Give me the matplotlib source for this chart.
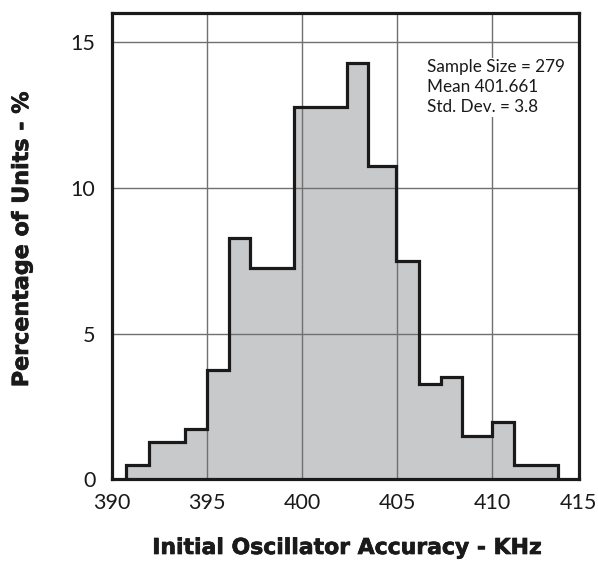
import matplotlib
matplotlib.use('Agg')
import matplotlib.pyplot as plt
import matplotlib.patheffects as pe

# ---- data ----
bin_edges = [390.76, 391.95, 393.84, 395.0, 396.16, 397.28, 399.59, 402.34,
             403.47, 404.97, 406.16, 407.3, 408.44, 409.97, 411.14, 413.47]
percentages = [0.48, 1.27, 1.73, 3.75, 8.26, 7.25, 12.75, 14.26,
               10.75, 7.49, 3.26, 3.5, 1.5, 1.97, 0.48]
x_ticks = [390, 395, 400, 405, 410]
x_tick_labels = ['390', '395', '400', '405', '410', '415']
y_ticks = [0, 5, 10, 15]
y_tick_labels = ['0', '5', '10', '15']
stats_lines = ["Sample Size = 279", "Mean 401.661", "Std. Dev. = 3.8"]
x_label = "Initial Oscillator Accuracy - KHz"
y_label = "Percentage of Units - %"

plt.rcParams['font.family'] = ['Lato', 'DejaVu Sans']

fig = plt.figure(figsize=(5.98, 5.62), dpi=100)
ax = fig.add_axes([0.1873, 0.1471, 0.7805, 0.8303])

x_min, x_max = 390, 414.56
ax.set_xlim(x_min, x_max)
ax.set_ylim(0, 16)

ax.stairs(percentages, bin_edges, fill=True, color='#c8c9cb', zorder=1, linewidth=0)
ax.grid(True, color='#707070', linewidth=1.0, zorder=2)
ax.set_axisbelow(False)
for gl in ax.get_xgridlines() + ax.get_ygridlines():
    gl.set_zorder(2)
ax.stairs(percentages, bin_edges, fill=False, color='#1a1a1a', linewidth=2.3,
          zorder=3, baseline=0)

ax.set_xticks(x_ticks + [x_max])
ax.set_xticklabels(x_tick_labels)
ax.set_yticks(y_ticks)
ax.set_yticklabels(y_tick_labels)
ax.tick_params(axis='both', length=0, labelsize=15.5, colors='#1a1a1a')
ax.tick_params(axis='x', pad=10)
ax.tick_params(axis='y', pad=12)

for sp in ax.spines.values():
    sp.set_linewidth(2.3)
    sp.set_color('#1a1a1a')
    sp.set_zorder(4)

ax.text(406.6, 14.4, "\n".join(stats_lines), fontsize=12.3, va='top', ha='left',
        linespacing=1.3, color='#1a1a1a', zorder=5,
        bbox=dict(facecolor='white', edgecolor='none', pad=1))

heavy = [pe.withStroke(linewidth=0.5, foreground='#1a1a1a')]
fig.text(348 / 598, 1 - 548 / 562, x_label, ha='center', va='center',
         fontsize=15.8, fontweight='bold', color='#1a1a1a',
         family=['DejaVu Sans'], path_effects=heavy)
fig.text(22 / 598, 1 - 239 / 562, y_label, ha='center', va='center',
         rotation=90, fontsize=16, fontweight='bold', color='#1a1a1a',
         family=['DejaVu Sans'], path_effects=heavy)

fig.savefig('out.png', dpi=100)
